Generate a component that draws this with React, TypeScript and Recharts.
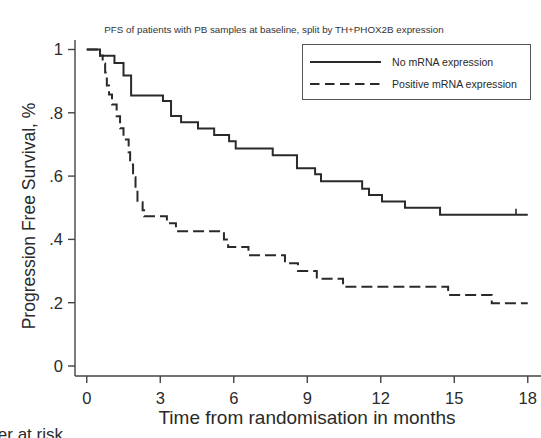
import {
  ComposedChart,
  Line,
  Scatter,
  XAxis,
  YAxis,
  Label,
  Legend,
} from 'recharts';

const chartTitle = 'PFS of patients with PB samples at baseline, split by TH+PHOX2B expression';
const xTitle = 'Time from randomisation in months';
const yTitle = 'Progression Free Survival, %';

const xTicks = [0, 3, 6, 9, 12, 15, 18];
const yTicks = [0, 0.2, 0.4, 0.6, 0.8, 1];

// No mRNA expression (solid)
const noExprTime = [0, 0.54, 1.13, 1.5, 1.81, 3.11, 3.44, 3.85, 4.54, 5.2, 5.81, 6.08, 7.59, 8.58, 9.32, 9.56, 11.24, 11.52, 12.05, 12.99, 14.42, 18.0];
const noExprSurv = [1, 0.98, 0.957, 0.918, 0.855, 0.837, 0.79, 0.77, 0.75, 0.73, 0.71, 0.687, 0.666, 0.625, 0.606, 0.584, 0.56, 0.54, 0.52, 0.5, 0.478, 0.478];

// Positive mRNA expression (dashed)
const posExprTime = [0, 0.54, 0.65, 0.75, 0.82, 0.91, 1.03, 1.22, 1.36, 1.5, 1.71, 1.77, 1.89, 1.99, 2.07, 2.28, 2.34, 3.27, 3.64, 5.6, 5.77, 6.6, 8.09, 8.62, 9.39, 10.46, 14.75, 16.53, 18.0];
const posExprSurv = [1, 0.981, 0.956, 0.927, 0.886, 0.858, 0.826, 0.789, 0.751, 0.716, 0.675, 0.637, 0.596, 0.558, 0.517, 0.492, 0.473, 0.451, 0.426, 0.4, 0.376, 0.35, 0.325, 0.3, 0.276, 0.25, 0.224, 0.198, 0.198];

// censored observation on the solid curve
const censorTime = [17.52];
const censorSurv = [0.478];

const toPoints = (t: number[], s: number[]) => t.map((x, i) => ({ t: x, v: s[i] }));

const FONT = '"Liberation Sans", Arial, sans-serif';
const INK = '#2a2a2a';

const fmtY = (v: number) => (v === 0 ? '0' : v === 1 ? '1' : v.toFixed(1).replace('0.', '.'));

const CensorMark = (props: any) => {
  const { cx, cy } = props;
  return <line x1={cx} x2={cx} y1={cy - 6} y2={cy} stroke={INK} strokeWidth={1.6} />;
};

const renderLegend = (props: any) => {
  const items = (props.payload || []).filter((p: any) => p.type !== 'none');
  return (
    <div
      style={{
        width: 229,
        height: 56,
        border: '1.4px solid #555',
        boxSizing: 'border-box',
        background: '#fff',
        fontFamily: FONT,
        fontSize: 10.6,
        color: INK,
        paddingTop: 6,
      }}
    >
      {items.map((entry: any) => (
        <div key={entry.value} style={{ display: 'flex', alignItems: 'center', height: 22 }}>
          <svg width={80} height={10} style={{ marginLeft: 7 }}>
            <line
              x1={0}
              x2={71}
              y1={5}
              y2={5}
              stroke={INK}
              strokeWidth={2}
              strokeDasharray={entry.payload && entry.payload.strokeDasharray ? '9.5 5.5' : undefined}
            />
          </svg>
          <span style={{ marginLeft: 2 }}>{entry.value}</span>
        </div>
      ))}
    </div>
  );
};

export default function App() {
  const solid = toPoints(noExprTime, noExprSurv);
  const dashed = toPoints(posExprTime, posExprSurv);
  const censored = toPoints(censorTime, censorSurv);

  return (
    <div
      style={{
        position: 'absolute',
        left: 0,
        top: 0,
        width: 541,
        height: 438,
        overflow: 'hidden',
        background: '#fff',
        fontFamily: FONT,
      }}
    >
      <div
        style={{
          position: 'absolute',
          left: 0,
          width: 548,
          top: 25,
          lineHeight: '10px',
          fontSize: 9.8,
          textAlign: 'center',
          color: '#333',
          whiteSpace: 'nowrap',
        }}
      >
        {chartTitle}
      </div>
      <ComposedChart
        width={541}
        height={438}
        margin={{ top: 40, right: 0, bottom: 0, left: 0 }}
      >
        <XAxis
          dataKey="t"
          type="number"
          domain={[-0.48, 18.54]}
          allowDataOverflow
          ticks={xTicks}
          interval={0}
          height={62}
          tickSize={7}
          tickMargin={9}
          stroke="#444"
          strokeWidth={1.4}
          tick={{ fill: INK, fontSize: 16.5, fontFamily: FONT }}
        >
          <Label
            content={() => (
              <text x={307} y={424} textAnchor="middle" fill={INK} fontSize={19} fontFamily={FONT}>
                {xTitle}
              </text>
            )}
          />
        </XAxis>
        <YAxis
          type="number"
          domain={[-0.0316, 1.03]}
          allowDataOverflow
          ticks={yTicks}
          interval={0}
          width={75}
          tickSize={7}
          tickMargin={5}
          stroke="#444"
          strokeWidth={1.4}
          tickFormatter={fmtY}
          tick={{ fill: INK, fontSize: 16.5, fontFamily: FONT }}
        >
          <Label
            content={() => (
              <text
                x={29}
                y={216}
                transform="rotate(-90 29 216)"
                textAnchor="middle"
                dominantBaseline="central"
                fill={INK}
                fontSize={17.5}
                fontFamily={FONT}
              >
                {yTitle}
              </text>
            )}
          />
        </YAxis>
        <Legend
          layout="horizontal"
          align="center"
          verticalAlign="middle"
          content={renderLegend}
          wrapperStyle={{ left: 302, top: 44, width: 229, height: 56 }}
        />
        <Line
          data={solid}
          dataKey="v"
          name="No mRNA expression"
          type="stepAfter"
          stroke={INK}
          strokeWidth={2}
          dot={false}
          activeDot={false}
          isAnimationActive={false}
        />
        <Line
          data={dashed}
          dataKey="v"
          name="Positive mRNA expression"
          type="stepAfter"
          stroke={INK}
          strokeWidth={2}
          strokeDasharray="11 5"
          dot={false}
          activeDot={false}
          isAnimationActive={false}
        />
        <Scatter
          data={censored}
          dataKey="v"
          legendType="none"
          shape={<CensorMark />}
          isAnimationActive={false}
        />
      </ComposedChart>
      <div
        style={{
          position: 'absolute',
          right: 478,
          top: 425,
          fontSize: 17,
          color: INK,
          whiteSpace: 'nowrap',
          lineHeight: '20px',
        }}
      >
        Number at risk
      </div>
    </div>
  );
}
